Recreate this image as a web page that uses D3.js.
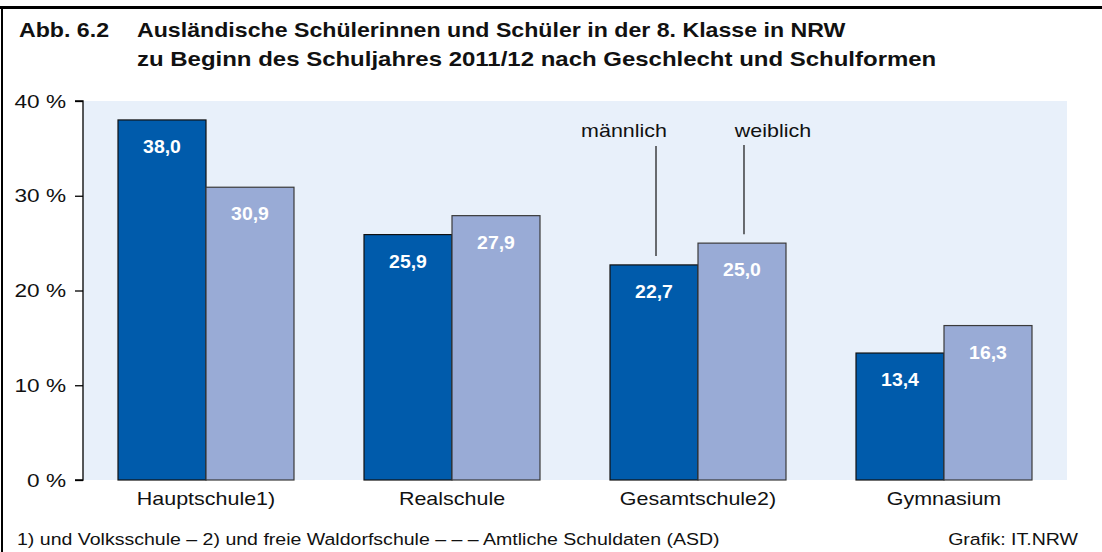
<!DOCTYPE html>
<html>
<head>
<meta charset="utf-8">
<script src="https://cdn.jsdelivr.net/npm/d3@7.9.0/dist/d3.min.js"></script>
<style>
  body { margin: 0; background: #fff; }
  svg { display: block; font-family: "Liberation Sans", Arial, sans-serif; }
</style>
</head>
<body>
<svg id="chart"></svg>
<script>
const categories = ['Hauptschule1)', 'Realschule', 'Gesamtschule2)', 'Gymnasium'];
const groups = ['männlich', 'weiblich'];
const maleValues = [38.0, 25.9, 22.7, 13.4];
const femaleValues = [30.9, 27.9, 25.0, 16.3];
const yTicks = [0, 10, 20, 30, 40];

const width = 1102;
const height = 552;
const margin = { top: 101, right: 35, bottom: 72, left: 83 };
const colors = ['#005bab', '#99abd6'];
const strokes = ['#111', '#3a3a3a'];
const SX = 1.13; // the reference type is a bit wider than Liberation Sans

const data = categories.map((c, i) => ({ cat: c, values: [maleValues[i], femaleValues[i]] }));

const svg = d3.select('#chart')
  .attr('width', width)
  .attr('height', height);

// text helper: horizontally stretched text around its anchor point
function label(parent, x, y, str, size, opts = {}) {
  return parent.append('text')
    .attr('transform', `translate(${x},${y}) scale(${opts.sx || SX},1)`)
    .attr('text-anchor', opts.anchor || 'start')
    .attr('font-size', size)
    .attr('font-weight', opts.bold ? 'bold' : null)
    .attr('fill', opts.fill || '#111')
    .text(str);
}

// frame
svg.append('rect').attr('x', 0).attr('y', 6).attr('width', width).attr('height', 3).attr('fill', '#000');
svg.append('rect').attr('x', 1).attr('y', 6).attr('width', 2).attr('height', height - 6).attr('fill', '#000');

// title
label(svg, 19, 37, 'Abb. 6.2', 20.5, { bold: true });
label(svg, 137, 37, 'Ausländische Schülerinnen und Schüler in der 8. Klasse in NRW', 20.5, { bold: true });
label(svg, 137, 66, 'zu Beginn des Schuljahres 2011/12 nach Geschlecht und Schulformen', 20.5, { bold: true, sx: 1.17 });

const x0 = d3.scaleBand()
  .domain(categories)
  .range([margin.left, width - margin.right])
  .paddingInner(0.2846)
  .paddingOuter(0.1423);

const x1 = d3.scaleBand()
  .domain(groups)
  .range([0, x0.bandwidth()]);

const y = d3.scaleLinear()
  .domain([0, 40])
  .range([height - margin.bottom, margin.top]);

// plot background
svg.append('rect')
  .attr('x', margin.left)
  .attr('y', margin.top)
  .attr('width', width - margin.right - margin.left)
  .attr('height', y(0) - margin.top)
  .attr('fill', '#e8f0fa');

// bars
const g = svg.selectAll('.grp')
  .data(data)
  .join('g')
  .attr('class', 'grp')
  .attr('transform', d => `translate(${x0(d.cat)},0)`);

g.selectAll('rect')
  .data(d => d.values.map((v, i) => ({ key: groups[i], v, i })))
  .join('rect')
  .attr('x', d => x1(d.key))
  .attr('y', d => y(d.v))
  .attr('width', x1.bandwidth())
  .attr('height', d => y(0) - y(d.v))
  .attr('fill', d => colors[d.i])
  .attr('stroke', d => strokes[d.i])
  .attr('stroke-width', 1.2);

g.each(function(d) {
  const grp = d3.select(this);
  d.values.forEach((v, i) => {
    label(grp, x1(groups[i]) + x1.bandwidth() / 2, y(v) + 33,
      d3.format('.1f')(v).replace('.', ','), 18,
      { anchor: 'middle', bold: true, fill: '#fff', sx: 1.08 });
  });
});

// y axis
const yAxis = d3.axisLeft(y)
  .tickValues(yTicks)
  .tickSize(8)
  .tickPadding(9)
  .tickFormat(d => d + ' %');

svg.append('g')
  .attr('transform', `translate(${margin.left},0)`)
  .call(yAxis)
  .call(a => a.select('.domain').attr('d', `M-8,${y(40)}H0V${y(0)}H-8`).attr('stroke', '#000').attr('stroke-width', 1.3))
  .call(a => a.selectAll('.tick line').attr('stroke', '#000').attr('stroke-width', 1.3))
  .call(a => a.selectAll('.tick text')
    .attr('font-size', 19)
    .attr('font-family', '"Liberation Sans", Arial, sans-serif')
    .attr('fill', '#111')
    .attr('transform', `translate(-17,0) scale(1.19,1) translate(17,0)`));

// x axis labels
categories.forEach(c => {
  label(svg, x0(c) + x0.bandwidth() / 2, y(0) + 25, c, 19, { anchor: 'middle' });
});

// legend callouts on Gesamtschule
const callCat = categories[2];
const callouts = [
  { key: groups[0], v: maleValues[2], tx: -32, lineTop: 146 },
  { key: groups[1], v: femaleValues[2], tx: 29, lineTop: 145 }
];
callouts.forEach(c => {
  const cx = x0(callCat) + x1(c.key) + x1.bandwidth() / 2 + 2;
  svg.append('line')
    .attr('x1', cx).attr('x2', cx)
    .attr('y1', c.lineTop).attr('y2', y(c.v) - 9)
    .attr('stroke', '#111').attr('stroke-width', 1.2);
  label(svg, cx + c.tx, 137, c.key, 19, { anchor: 'middle' });
});

// footer
label(svg, 17, 545, '1) und Volksschule – 2) und freie Waldorfschule – – – Amtliche Schuldaten (ASD)', 17, { sx: 1.15 });
label(svg, 1078, 545, 'Grafik: IT.NRW', 17, { anchor: 'end', sx: 1.15 });
</script>
</body>
</html>
